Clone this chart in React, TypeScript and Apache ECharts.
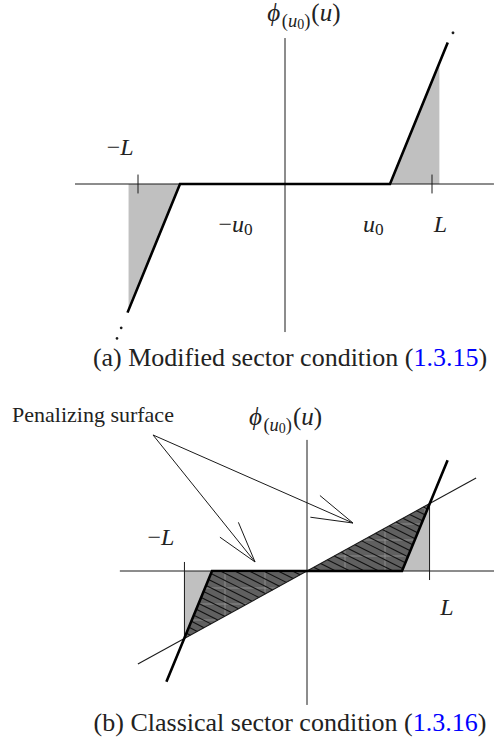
import React, { useEffect, useRef } from "react";
import * as echarts from "echarts";

type P = [number, number];

// ---------------- Panel (a): modified sector condition ----------------
const A_HAXIS: P[] = [[-2.0, 0], [1.99, 0]];
const A_VAXIS: P[] = [[0, 1.39], [0, -1.41]];
const A_PHI: P[] = [[-1.5, -1.225], [-1, 0], [1, 0], [1.55, 1.348]];
const A_DOTS: P[] = [[-1.56, -1.37], [-1.6, -1.47], [1.6, 1.44]];
const A_SHADE_LEFT: P[] = [[-1, 0], [-1.49, -1.2], [-1.49, 0]];
const A_SHADE_RIGHT: P[] = [[1, 0], [1.47, 1.15], [1.47, 0]];
const A_TICKS_U = [-1.4, 1.4];
const A_TICK_HALF = 0.09;

// ---------------- Panel (b): classical sector condition ----------------
const B_HAXIS: P[] = [[-1.97, 0], [1.99, 0]];
const B_VAXIS: P[] = [[0, 1.38], [0, -1.41]];
const B_PHI: P[] = [[-1.48, -1.166], [-1, 0], [1, 0], [1.48, 1.166]];
const B_SECTOR: P[] = [[-1.78, -0.979], [1.78, 0.979]];
const B_PEN_RIGHT: P[] = [[0, 0], [1.29, 0.71], [1, 0]];
const B_PEN_LEFT: P[] = [[0, 0], [-1, 0], [-1.29, -0.71]];
const B_GRAY_RIGHT: P[] = [[1, 0], [1.29, 0.71], [1.29, 0]];
const B_GRAY_LEFT: P[] = [[-1, 0], [-1.29, -0.71], [-1.29, 0]];
const B_L_RIGHT: P[] = [[1.29, 0.71], [1.29, -0.095]];
const B_L_LEFT: P[] = [[-1.29, 0.095], [-1.29, -0.71]];
const B_ARROW_FROM: P = [-1.621, 1.432];
const B_ARROW_TO: P[] = [[-0.547, 0.095], [0.484, 0.505]];

// ---------------- texts ----------------
const CAPTION_A = ["(a) Modified sector condition (", "1.3.15", ")"];
const CAPTION_B = ["(b) Classical sector condition (", "1.3.16", ")"];
const PEN_LABEL = "Penalizing surface";

// label anchors (data coords): [u, v baseline]
const A_LBL_PHI: P = [0.18, 1.55];
const A_LBL_MINUS_L: P = [-1.57, 0.276];
const A_LBL_MINUS_U0: P = [-0.47, -0.457];
const A_LBL_U0: P = [0.84, -0.457];
const A_LBL_L: P = [1.48, -0.457];
const B_LBL_PHI: P = [-0.226, 1.537];
const B_LBL_PEN: P = [-3.105, 1.568];
const B_LBL_MINUS_L: P = [-1.537, 0.274];
const B_LBL_L: P = [1.474, -0.463];

// ---------------- layout ----------------
const W = 494;
const H = 743;
const A_ORIGIN = [285, 184];
const A_SCALE = 105;
const A_TOP = 0;
const A_HEIGHT = 370;
const B_ORIGIN = [307, 571];
const B_SCALE = 95;
const B_TOP = 380;
const B_HEIGHT = H - 380;

const FONT = '"Liberation Serif", "DejaVu Serif", serif';
const INK = "#1a1a1a";
const TEXT_INK = "#222222";

let mctx: CanvasRenderingContext2D | null = null;
function measure(t: string, font: string) {
  if (!mctx) mctx = document.createElement("canvas").getContext("2d");
  if (!mctx) return t.length * 10;
  mctx.font = font;
  return mctx.measureText(t).width;
}

type Tok = { t: string; it?: boolean; k?: number; dy?: number; fill?: string; gap?: number };
function textRun(toks: Tok[], size: number, x: number, baseline: number, align: "left" | "center") {
  const items = toks.map((tk) => {
    const fs = size * (tk.k ?? 1);
    const font = `${tk.it ? "italic " : ""}${fs}px ${FONT}`;
    return { ...tk, fs, font, w: measure(tk.t, font) + (tk.gap ?? 0) };
  });
  const total = items.reduce((s, i) => s + i.w, 0);
  let cx = align === "center" ? x - total / 2 : x;
  return items.map((it) => {
    const el = {
      type: "text",
      x: cx,
      y: baseline + (it.dy ?? 0) * size - 0.34 * it.fs,
      silent: true,
      z: 100,
      style: {
        text: it.t,
        font: it.font,
        fill: it.fill ?? TEXT_INK,
        textAlign: "left",
        textVerticalAlign: "middle",
        verticalAlign: "middle",
      },
    };
    cx += it.w;
    return el;
  });
}

const PHI_TOKS: Tok[] = [
  { t: "\u03D5", it: true, gap: 1.5 },
  { t: "(", k: 0.74, dy: 0.24 },
  { t: "u", it: true, k: 0.74, dy: 0.24 },
  { t: "0", k: 0.56, dy: 0.34 },
  { t: ")", k: 0.74, dy: 0.24, gap: 1 },
  { t: "(" },
  { t: "u", it: true },
  { t: ")" },
];
const U0_TOKS: Tok[] = [
  { t: "u", it: true },
  { t: "0", k: 0.72, dy: 0.15 },
];

function clipToPoly(poly: number[][], a: number, b: number, c: number) {
  const pts: number[][] = [];
  const n = poly.length;
  for (let i = 0; i < n; i++) {
    const P0 = poly[i];
    const Q0 = poly[(i + 1) % n];
    const fP = a * P0[0] + b * P0[1] - c;
    const fQ = a * Q0[0] + b * Q0[1] - c;
    if ((fP <= 0 && fQ > 0) || (fP > 0 && fQ <= 0)) {
      const t = fP / (fP - fQ);
      pts.push([P0[0] + t * (Q0[0] - P0[0]), P0[1] + t * (Q0[1] - P0[1])]);
    }
  }
  if (pts.length < 2) return null;
  pts.sort((p, q) => (-b * p[0] + a * p[1]) - (-b * q[0] + a * q[1]));
  return [pts[0], pts[pts.length - 1]];
}

function seg(p: number[], q: number[], stroke: string, lineWidth: number) {
  return { type: "line", shape: { x1: p[0], y1: p[1], x2: q[0], y2: q[1] }, style: { stroke, lineWidth, fill: "none" } };
}

function familyLines(poly: number[][], a: number, b: number, step: number, phase: number, stroke: string, lw: number) {
  const vals = poly.map((p) => a * p[0] + b * p[1]);
  const lo = Math.min(...vals);
  const hi = Math.max(...vals);
  const out: any[] = [];
  let c = Math.ceil((lo - phase) / step) * step + phase;
  for (; c <= hi; c += step) {
    const s = clipToPoly(poly, a, b, c);
    if (s) out.push(seg(s[0], s[1], stroke, lw));
  }
  return out;
}

function custom(g: number, z: number, build: (api: any) => any) {
  return {
    type: "custom",
    coordinateSystem: "cartesian2d",
    xAxisIndex: g,
    yAxisIndex: g,
    data: [[0, 0]],
    encode: { x: 0, y: 1 },
    z,
    silent: true,
    clip: false,
    renderItem: (_p: any, api: any) => build(api),
  };
}

const poly = (pts: P[], style: any) => (api: any) => ({
  type: "polygon",
  shape: { points: pts.map((p) => api.coord(p)) },
  style,
});
const pline = (pts: P[], stroke: string, lineWidth: number) => (api: any) => ({
  type: "polyline",
  shape: { points: pts.map((p) => api.coord(p)) },
  style: { stroke, lineWidth, fill: "none", lineJoin: "miter" },
});

function hatch(pts: P[]) {
  return (api: any) => {
    const px = pts.map((p) => api.coord(p));
    const children = [
      { type: "polygon", shape: { points: px }, style: { fill: "#606060" } },
      ...familyLines(px, 1, 0, 40, 25, "#a0a0a0", 0.7),
      ...familyLines(px, 0, 1, 16, 12, "#a0a0a0", 0.7),
      ...familyLines(px, -0.5, 1, 7.2, 0, "#111111", 1.1),
    ];
    return { type: "group", children };
  };
}

function arrows(api: any) {
  const s = api.coord(B_ARROW_FROM);
  const children: any[] = [];
  const head = 43;
  const spread = (16 * Math.PI) / 180;
  B_ARROW_TO.forEach((t) => {
    const e = api.coord(t);
    children.push(seg(s, e, INK, 1));
    const ang = Math.atan2(s[1] - e[1], s[0] - e[0]);
    [ang - spread, ang + spread].forEach((a) => {
      children.push(seg(e, [e[0] + head * Math.cos(a), e[1] + head * Math.sin(a)], INK, 1));
    });
  });
  return { type: "group", children };
}

function buildOption() {
  const ax = (o: number[], sc: number, top: number, h: number) => ({
    xmin: -o[0] / sc,
    xmax: (W - o[0]) / sc,
    ymax: (o[1] - top) / sc,
    ymin: -(top + h - o[1]) / sc,
  });
  const a = ax(A_ORIGIN, A_SCALE, A_TOP, A_HEIGHT);
  const b = ax(B_ORIGIN, B_SCALE, B_TOP, B_HEIGHT);
  const tickSegs = (api: any) => ({
    type: "group",
    children: A_TICKS_U.map((u) => seg(api.coord([u, A_TICK_HALF]), api.coord([u, -A_TICK_HALF]), INK, 1)),
  });
  const dots = (api: any) => ({
    type: "group",
    children: A_DOTS.map((p) => {
      const c = api.coord(p);
      return { type: "circle", shape: { cx: c[0], cy: c[1], r: 1.4 }, style: { fill: INK } };
    }),
  });
  return {
    animation: false,
    backgroundColor: "#ffffff",
    grid: [
      { left: 0, top: A_TOP, width: W, height: A_HEIGHT },
      { left: 0, top: B_TOP, width: W, height: B_HEIGHT },
    ],
    xAxis: [
      { gridIndex: 0, type: "value", min: a.xmin, max: a.xmax, show: false },
      { gridIndex: 1, type: "value", min: b.xmin, max: b.xmax, show: false },
    ],
    yAxis: [
      { gridIndex: 0, type: "value", min: a.ymin, max: a.ymax, show: false },
      { gridIndex: 1, type: "value", min: b.ymin, max: b.ymax, show: false },
    ],
    series: [
      // panel a
      custom(0, 1, poly(A_SHADE_LEFT, { fill: "#c0c0c0" })),
      custom(0, 1, poly(A_SHADE_RIGHT, { fill: "#c0c0c0" })),
      custom(0, 4, pline(A_HAXIS, INK, 1)),
      custom(0, 4, pline(A_VAXIS, INK, 1)),
      custom(0, 4, tickSegs),
      custom(0, 6, pline(A_PHI, "#000000", 2.6)),
      custom(0, 6, dots),
      // panel b
      custom(1, 1, poly(B_GRAY_LEFT, { fill: "#c0c0c0" })),
      custom(1, 1, poly(B_GRAY_RIGHT, { fill: "#c0c0c0" })),
      custom(1, 2, hatch(B_PEN_LEFT)),
      custom(1, 2, hatch(B_PEN_RIGHT)),
      custom(1, 4, pline(B_HAXIS, INK, 1)),
      custom(1, 4, pline(B_VAXIS, INK, 1)),
      custom(1, 4, pline(B_L_LEFT, INK, 1)),
      custom(1, 4, pline(B_L_RIGHT, INK, 1)),
      custom(1, 5, pline(B_SECTOR, INK, 1.1)),
      custom(1, 6, pline(B_PHI, "#000000", 2.6)),
      custom(1, 7, arrows),
    ],
  };
}

export default function App() {
  const ref = useRef<HTMLDivElement>(null);
  useEffect(() => {
    if (!ref.current) return;
    const chart = echarts.init(ref.current, undefined, { renderer: "svg", width: W, height: H });
    chart.setOption(buildOption() as any);
    const toPx = (g: number, p: P) => chart.convertToPixel({ gridIndex: g } as any, p) as unknown as number[];
    const S = 24;
    const label = (g: number, p: P, toks: Tok[], align: "left" | "center" = "center", size = S) => {
      const q = toPx(g, p);
      return textRun(toks, size, q[0], q[1], align);
    };
    const graphics: any[] = [
      ...label(0, A_LBL_PHI, PHI_TOKS, "center", 25),
      ...label(0, A_LBL_MINUS_L, [{ t: "\u2212" }, { t: "L", it: true }]),
      ...label(0, A_LBL_MINUS_U0, [{ t: "\u2212" }, ...U0_TOKS]),
      ...label(0, A_LBL_U0, U0_TOKS),
      ...label(0, A_LBL_L, [{ t: "L", it: true }]),
      ...label(1, B_LBL_PHI, PHI_TOKS, "center", 25),
      ...label(1, B_LBL_MINUS_L, [{ t: "\u2212" }, { t: "L", it: true }]),
      ...label(1, B_LBL_L, [{ t: "L", it: true }]),
    ];
    const pen = toPx(1, B_LBL_PEN);
    graphics.push(...textRun([{ t: PEN_LABEL }], 22, pen[0], pen[1], "left"));
    const cap = (c: string[], baseline: number) =>
      textRun([{ t: c[0] }, { t: c[1], fill: "#0000ff" }, { t: c[2] }], 26, 290, baseline, "center");
    graphics.push(...cap(CAPTION_A, 366), ...cap(CAPTION_B, 731));
    chart.setOption({ graphic: graphics.map((g) => ({ ...g })) } as any);
    return () => chart.dispose();
  }, []);
  return <div ref={ref} style={{ position: "absolute", left: 0, top: 0, width: W, height: H }} />;
}
